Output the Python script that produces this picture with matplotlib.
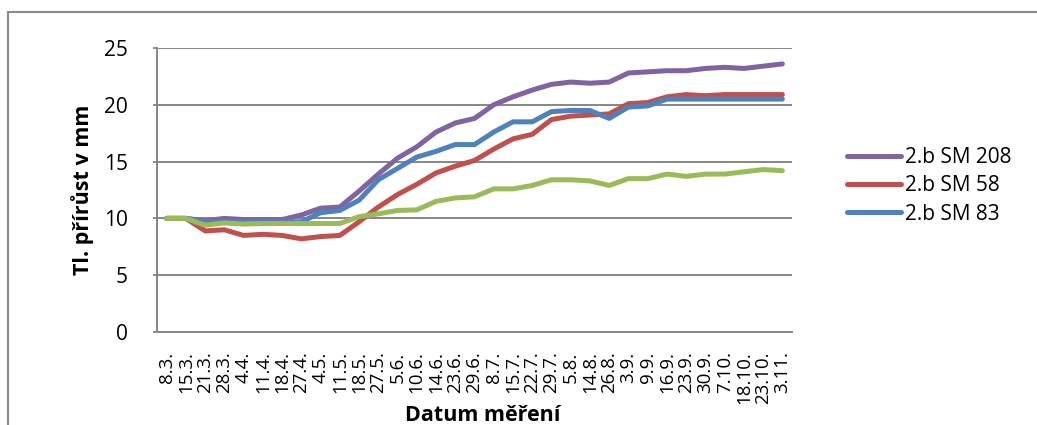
import matplotlib.pyplot as plt
import numpy as np

plt.rcParams['font.family'] = ['Open Sans', 'DejaVu Sans']

dates = ["8.3.", "15.3.", "21.3.", "28.3.", "4.4.", "11.4.", "18.4.", "27.4.",
         "4.5.", "11.5.", "18.5.", "27.5.", "5.6.", "10.6.", "14.6.", "23.6.",
         "29.6.", "8.7.", "15.7.", "22.7.", "29.7.", "5.8.", "14.8.", "26.8.",
         "3.9.", "9.9.", "16.9.", "23.9.", "30.9.", "7.10.", "18.10.", "23.10.", "3.11."]

sm208 = [10, 10, 9.8, 10.0, 9.9, 9.9, 9.9, 10.3, 10.9, 11.0, 12.4, 13.9, 15.3, 16.3,
         17.6, 18.4, 18.8, 20.0, 20.7, 21.3, 21.8, 22.0, 21.9, 22.0, 22.8, 22.9, 23.0,
         23.0, 23.2, 23.3, 23.2, 23.4, 23.6]
sm58 = [10, 10, 8.9, 9.0, 8.5, 8.6, 8.5, 8.2, 8.4, 8.5, 9.7, 11.0, 12.1, 13.0, 14.0,
        14.6, 15.1, 16.1, 17.0, 17.4, 18.7, 19.0, 19.1, 19.2, 20.1, 20.2, 20.7, 20.9,
        20.8, 20.9, 20.9, 20.9, 20.9]
sm83 = [10, 10, 9.7, 9.7, 9.7, 9.7, 9.7, 9.7, 10.5, 10.7, 11.6, 13.4, 14.4, 15.4, 15.9,
        16.5, 16.5, 17.6, 18.5, 18.5, 19.4, 19.5, 19.5, 18.8, 19.8, 19.9, 20.5, 20.5,
        20.5, 20.5, 20.5, 20.5, 20.5]
series4 = [10, 10, 9.4, 9.6, 9.5, 9.55, 9.55, 9.55, 9.55, 9.55, 10.15, 10.4, 10.7, 10.75,
           11.5, 11.8, 11.9, 12.6, 12.6, 12.9, 13.4, 13.4, 13.3, 12.9, 13.5, 13.5, 13.9,
           13.7, 13.9, 13.9, 14.1, 14.3, 14.2]

grey = '#868686'

fig = plt.figure(figsize=(10.37, 4.25), dpi=100)
ax = fig.add_axes([157/1037, 1 - 332/425, (792 - 157)/1037, (332 - 48)/425])

x = np.arange(len(dates))
style = dict(lw=3.6, solid_capstyle='round', solid_joinstyle='round')
ax.plot(x, sm208, color='#8064A2', label='2.b SM 208', **style)
ax.plot(x, sm58, color='#C0504D', label='2.b SM 58', **style)
ax.plot(x, sm83, color='#4F81BD', label='2.b SM 83', **style)
ax.plot(x, series4, color='#9BBB59', label='_nolegend_', **style)

ax.set_xlim(-0.5, len(dates) - 0.5)
ax.set_ylim(0, 25)
ax.set_yticks(range(0, 26, 5))
ax.set_xticks(x)
ax.set_xticklabels(dates, rotation=90, fontsize=13.5)
ax.tick_params(axis='x', length=0, pad=14)
ax.tick_params(axis='y', labelsize=15, length=3, width=1.3, color=grey, pad=18)

ax.grid(axis='y', color=grey, lw=1.4)
ax.set_axisbelow(True)
for side in ('top', 'right'):
    ax.spines[side].set_visible(False)
for side in ('left', 'bottom'):
    ax.spines[side].set_color(grey)
    ax.spines[side].set_linewidth(1.4)

fig.text(83/1037, 1 - 190/425, 'Tl. přírůst v mm', rotation=90, ha='center',
         va='center', fontsize=15.5, fontweight='bold')
fig.text(483/1037, 1 - 421/425, 'Datum měření', ha='center', va='baseline',
         fontsize=15.5, fontweight='bold')

ax.legend(loc='center left', bbox_to_anchor=(847/1037, 1 - 186/425),
          bbox_transform=fig.transFigure, frameon=False, fontsize=15,
          handlelength=2.6, handletextpad=0.2, labelspacing=0.35,
          borderpad=0, borderaxespad=0)

# chart frame, cut by the right and bottom edges
fig.add_artist(plt.Rectangle((8/1037, -0.2), 1.2, 0.2 + 1 - 12/425,
                             transform=fig.transFigure, fill=False,
                             edgecolor='#8a8a8a', lw=1.5))

fig.savefig('out.png', dpi=100)
